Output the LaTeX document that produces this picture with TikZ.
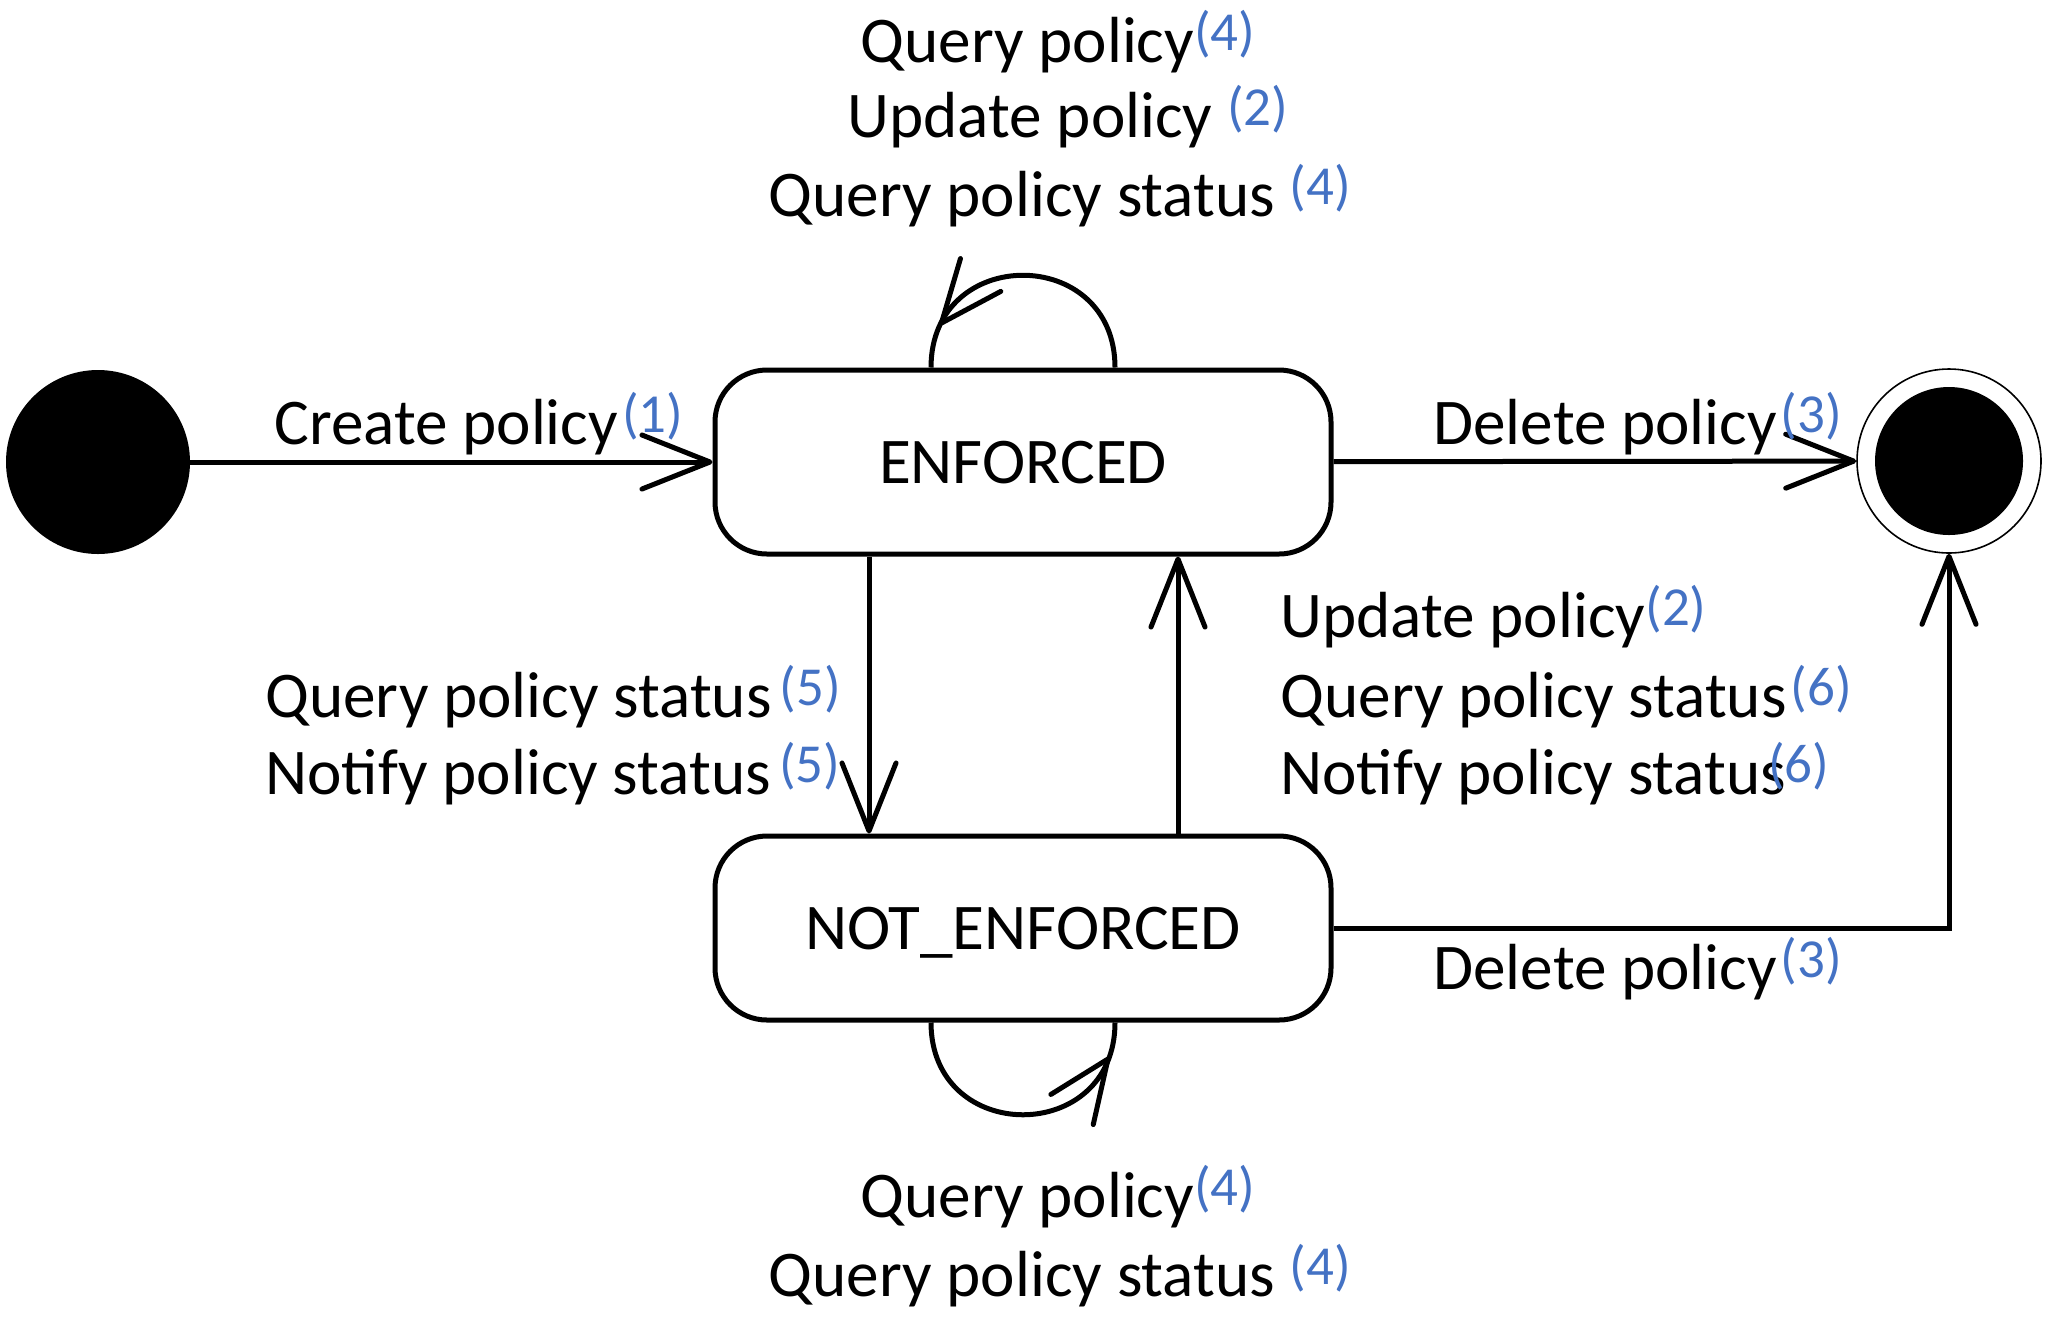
\documentclass[tikz,border=0pt]{standalone}
\usepackage{fontspec}
\setmainfont{Carlito}
\usetikzlibrary{arrows.meta,decorations.markings,calc}
\definecolor{refblue}{HTML}{4472C4}
\newcommand\nr[1]{\raisebox{6pt}{\fontsize{27.5}{28}\selectfont\color{refblue}(#1)}}
\begin{document}
\begin{tikzpicture}[x=0.5pt,y=-0.5pt,
  every node/.style={font=\fontsize{32.6}{38}\selectfont, inner sep=0pt},
  state/.style={draw, line width=2.5pt, rounded corners=26pt, minimum width=308pt, minimum height=92pt, text depth=0pt},
  arr/.style={line width=2.5pt, -{Straight Barb[length=34pt,width=27pt,round]}},
  lbl/.style={anchor=base west},
  lblc/.style={anchor=base},
  loopmark/.style 2 args={line width=2.5pt, postaction={decorate,decoration={markings,mark=at position #1 with {\pgftransformrotate{#2}\arrow{Straight Barb[length=31pt,width=26pt,round,line width=2.5pt]}}}}}
]
\useasboundingbox (0,0) rectangle (2048,1335);
\node[circle, fill=black, minimum size=92pt] (init) at (98,462) {};
\node[state] (enf) at (1023,462) {ENFORCED};
\node[state] (nenf) at (1023,928) {NOT\_ENFORCED};
\node[circle, draw, line width=0.8pt, minimum size=92pt] (fin) at (1949,461) {};
\node[circle, fill=black, minimum size=74pt] (fincore) at (fin) {};

\draw[arr] (init) -- (enf);
\draw[arr] (enf) -- (fin);
\coordinate (dnx) at (869,0);
\coordinate (upx) at (1178,0);
\draw[arr] (dnx |- enf.south) -- (dnx |- nenf.north);
\draw[arr] (upx |- nenf.north) -- (upx |- enf.south);
\draw[arr] (nenf.east) -| (fin.south);

\draw[loopmark={0.85}{-14}] ($(enf.north)+(92,0)$) .. controls +(0,-123) and +(0,-123) .. ($(enf.north)+(-92,0)$);
\draw[loopmark={0.88}{-16}] ($(nenf.south)+(-92,0)$) .. controls +(0,123) and +(0,123) .. ($(nenf.south)+(92,0)$);

\node[lblc] (t1) at (1058,62) {Query policy\nr{4}};
\node[lblc] (t2) at (1068,137) {Update policy \nr{2}};
\node[lblc] (t3) at (1060,216) {Query policy status \nr{4}};

\node[lbl] (cl) at (274,444) {Create policy\hspace{2pt}\nr{1}};
\node[lbl] (dl1) at (1433,444) {Delete policy\hspace{2pt}\nr{3}};

\node[lbl] (l1) at (265,717) {Query policy status\hspace{4pt}\nr{5}};
\node[lbl] (l2) at (265,794) {Notify policy status\hspace{4pt}\nr{5}};

\node[lbl] (r1) at (1280,637) {Update policy\nr{2}};
\node[lbl] (r2) at (1280,717) {Query policy status\hspace{2pt}\nr{6}};
\node[lbl] (r3) at (1280,794) {Notify policy status\hspace{-9pt}\nr{6}};

\node[lbl] (dl2) at (1433,989) {Delete policy\hspace{2pt}\nr{3}};

\node[lblc] (b1) at (1058,1217) {Query policy\nr{4}};
\node[lblc] (b2) at (1060,1296) {Query policy status \nr{4}};
\end{tikzpicture}
\end{document}
